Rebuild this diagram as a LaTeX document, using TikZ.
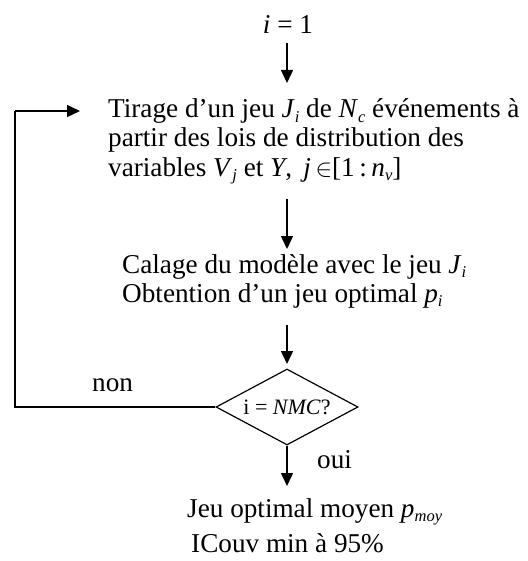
\documentclass[tikz,border=0pt]{standalone}
\usepackage{fontspec}
\setmainfont{Liberation Serif}
\usetikzlibrary{arrows.meta,shapes.geometric}
\newcommand{\sbx}[1]{\raisebox{-0.15em}{\fontsize{16.5}{17}\selectfont\itshape #1}}
\tikzset{
  txt/.style={inner sep=0pt,anchor=base west,text height=19pt,text depth=5pt,font=\fontsize{27.2}{30}\selectfont},
  arr/.style={line width=1.5pt,-{Triangle[length=13pt,width=12pt]}},
  ln/.style={line width=1.5pt},
}
\begin{document}
\begin{tikzpicture}[x=1pt,y=-1pt]
\useasboundingbox (0,0) rectangle (527,561);
% start
\node[txt,anchor=base] (i1) at (288,34) {\textit{i} = 1};
\coordinate (a1s) at (287,43);
\coordinate (a1e) at (287,83);
\draw[arr] (a1s) -- (a1e);
% block 1
\node[txt] (t1) at (108,118) {Tirage d’un jeu \textit{J}\sbx{i} de \textit{N}\sbx{c} événements à};
\node[txt] (t2) at (108,146.5) {partir des lois de distribution des};
\node[txt] (t3) at (108,176.5) {variables \textit{V}\sbx{j} et \textit{Y},\, \textit{j}\,$\in$[1\,:\,\textit{n}\sbx{v}]};
\coordinate (a2s) at (287,199);
\coordinate (a2e) at (287,249);
\draw[arr] (a2s) -- (a2e);
% block 2
\node[txt] (c1) at (122,273) {Calage du modèle avec le jeu \textit{J}\sbx{i}};
\node[txt] (c2) at (122,302) {Obtention d’un jeu optimal \textit{p}\sbx{i}};
\coordinate (a3s) at (287,325);
\coordinate (a3e) at (287,364);
\draw[arr] (a3s) -- (a3e);
% decision
\node[diamond,draw,line width=1.2pt,aspect=1.87,minimum width=142pt,minimum height=76pt,inner sep=0pt,font=\fontsize{22}{24}\selectfont] (dec) at (287,407) {i = \textit{NMC}?};
\coordinate (lp1) at (15,407);
\coordinate (lp2) at (15,111);
\coordinate (lp3) at (80,111);
\draw[ln] (dec.west) -- (lp1) -- (lp2);
\draw[arr] (lp2) -- (lp3);
\node[txt] (non) at (92,391) {non};
\node[txt] (oui) at (317,468) {oui};
\coordinate (a4e) at (287,486);
\draw[arr] (dec.south) -- (a4e);
% result
\node[txt] (r1) at (187,517) {Jeu optimal moyen \textit{p}\sbx{moy}};
\node[txt] (r2) at (191,552) {ICouv min à 95\%};
\end{tikzpicture}
\end{document}
